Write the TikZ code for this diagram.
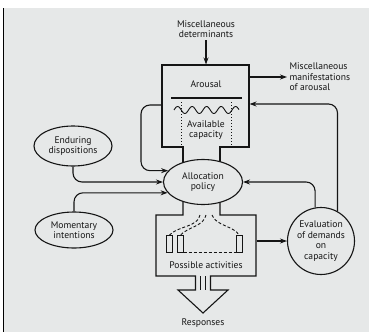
\documentclass[tikz,border=0pt]{standalone}
\usepackage{fontspec}
\setmainfont{PT Sans}
\usetikzlibrary{arrows.meta,shapes.geometric,calc}
\definecolor{bg}{HTML}{E6E8E8}
\definecolor{ink}{HTML}{151515}
\begin{document}
\begin{tikzpicture}[x=1pt,y=-1pt, line width=1.1pt, color=ink,
  txt/.style={font=\fontsize{9.6}{10.6}\selectfont, align=center, inner sep=2pt, text=ink},
  arr/.style={draw=ink, -{Stealth[length=7pt,width=5pt]}, line width=1.1pt},
  oval/.style={ellipse, draw=ink, fill=bg, inner sep=0pt, txt},
  dsh/.style={dash pattern=on 3pt off 2pt, line width=0.9pt}]
\useasboundingbox (0,0) rectangle (369,332);
\fill[white] (0,0) rectangle (369,332);
\fill[bg] (4.3,8) rectangle (369,332);
\draw[black, line width=1.6pt] (3.5,8) -- (3.5,332);

% outline of the arousal box, neck and activities box with response arrow
\draw[line join=miter] (183,182) -- (183,147) -- (162,147) -- (162,65) -- (249,65) -- (249,147) -- (220,147) -- (220,182);
\draw[line join=miter] (183,182) -- (183,215) -- (156,215) -- (156,276) -- (195.5,276) -- (195.5,290) -- (178,290) -- (203,313) -- (228,290) -- (210.5,290) -- (210.5,276) -- (256,276) -- (256,215) -- (220,215) -- (220,182);
\draw[line width=0.9pt] (200.5,276) -- (200.5,290) (205.5,276) -- (205.5,290);

% invisible frames of the two boxes
\node[minimum width=87pt, minimum height=82pt, inner sep=0pt] (arousal) at (205.5,106) {};
\node[minimum width=100pt, minimum height=61pt, inner sep=0pt] (acts) at (206,245.5) {};

% arousal internals
\draw (171,98) -- (242,98);
\draw[line width=0.9pt] plot[domain=0:65, samples=120, smooth] ({174+\x},{110-3.5*sin(\x*24.83)});
\draw[dotted, line width=1pt] (181,102) -- (181,147) (231,102) -- (231,147);
\node[txt] (tarousal) at (206,84) {Arousal};
\node[txt] (avail) at (206,130) {Available\\capacity};

% activities internals
\draw[line width=0.9pt] (166,235) rectangle (172.5,252) (177.5,235) rectangle (183.5,252) (236.5,235) rectangle (242,252);
\draw[dsh] (183.5,252) -- (236.5,252);
\draw[dsh] (200,215) .. controls (198,227) and (178,226) .. (169.5,235);
\draw[dsh] (206,215) .. controls (204,226) and (188,227) .. (180.5,235);
\draw[dsh] (212,215) .. controls (216,226) and (234,226) .. (239,235);
\node[txt] (poss) at (206,265) {Possible activities};
\node[txt] (resp) at (203,323) {Responses};

% nodes
\node[oval, minimum width=79pt, minimum height=45pt] (alloc) at (203,182) {Allocation\\policy};
\node[oval, minimum width=78pt, minimum height=40pt] (endur) at (73,146) {Enduring\\dispositions};
\node[oval, minimum width=78pt, minimum height=36pt] (moment) at (74,230) {Momentary\\intentions};
\node[circle, draw=ink, fill=bg, minimum size=67pt, txt, inner sep=0pt] (eval) at (321,241) {Evaluation\\of demands\\on\\capacity};
\node[txt] (mdet) at (206,29) {Miscellaneous\\determinants};
\node[txt, anchor=west, align=left] (manif) at (287,77) {Miscellaneous\\manifestations\\of arousal};

% connectors
\draw[arr] (mdet.south) -- (mdet.south |- arousal.north);
\draw[arr] (arousal.east |- manif.west) -- (manif.west);
\draw[arr, rounded corners=9pt] (eval.61) |- (arousal.east |- 0,104);
\draw[arr, rounded corners=9pt] (eval.100) |- (alloc.east);
\draw[arr] (acts.east |- eval.west) -- (eval.west);
\draw[arr, rounded corners=9pt] (arousal.west |- 0,105) -| (141,0 |- alloc.162) -- (alloc.162);
\draw[arr, rounded corners=9pt] (endur.south) |- (alloc.west);
\draw[arr, rounded corners=9pt] (moment.north) |- (alloc.197);
\end{tikzpicture}
\end{document}
